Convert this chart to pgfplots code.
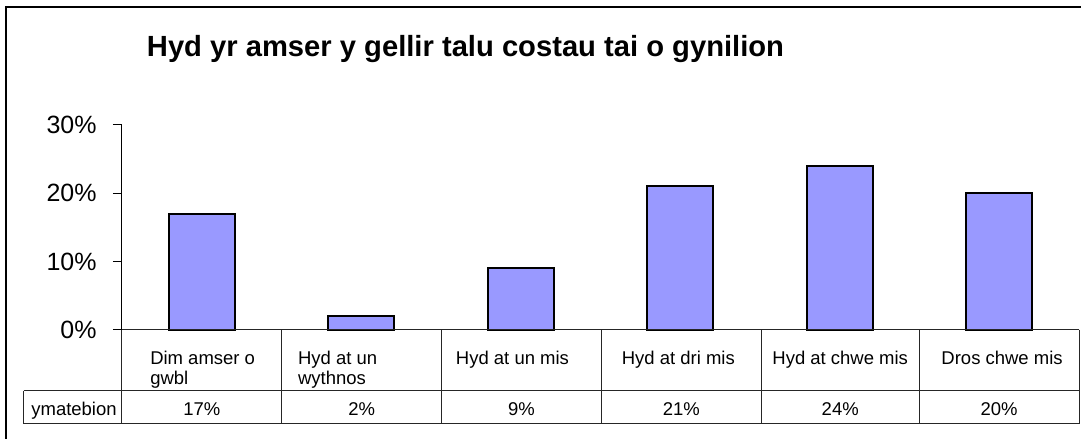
\documentclass[border=0pt]{standalone}
\usepackage{fontspec}
\setmainfont{Liberation Sans}
\usepackage{pgfplots}
\pgfplotsset{compat=1.18}
\definecolor{barblue}{HTML}{9999FF}
\begin{document}
\begin{tikzpicture}
\begin{scope}[x=0.5pt,y=-0.5pt]
\useasboundingbox (0,0) rectangle (1082,439);
\end{scope}
\begin{axis}[
  at={(61pt,-165pt)}, anchor=south west,
  scale only axis, width=479pt, height=102.5pt,
  xmin=-0.5, xmax=5.5, ymin=0, ymax=30,
  ybar, bar width=33pt,
  axis lines*=left,
  axis line style={line width=0.5pt, black},
  xtick=\empty,
  ytick={0,10,20,30},
  yticklabel={\pgfmathprintnumber{\tick}\%},
  /pgf/number format/assume math mode=true,
  tick align=outside, major tick length=4.5pt,
  tick style={black, line width=0.5pt},
  yticklabel style={font=\fontsize{12.5}{14}\selectfont, anchor=east, inner sep=0pt, xshift=-8pt},
  clip=false,
]
\addplot[fill=barblue, draw=black, line width=0.9pt] coordinates {(0,17) (1,2) (2,9) (3,21) (4,24) (5,20)};
\end{axis}
\begin{scope}[x=0.5pt,y=-0.5pt]
  % outer frame (left and top sides visible)
  \draw[line width=1pt] (6,439) -- (6,7.5) -- (1082,7.5);
  % title
  \node[anchor=base west, inner sep=0pt, font=\fontsize{14.6}{17}\selectfont\bfseries] at (146.7,56.7) {Hyd yr amser y gellir talu costau tai o gynilion};
  % data table
  \begin{scope}[line width=0.5pt, black!85]
    \draw (122,330) -- (1080,330);
    \draw (24,391) -- (1080,391);
    \draw (24,424) -- (1080,424);
    \draw (24,391) -- (24,424);
    \foreach \xx in {122,282,442,602,762,920,1080} {\draw (\xx,330) -- (\xx,424);}
  \end{scope}
  \begin{scope}[every node/.style={inner sep=0pt, font=\fontsize{9.25}{10}\selectfont}]
    \node[anchor=base west] at (150,365) {Dim amser o};
    \node[anchor=base west] at (150,385) {gwbl};
    \node[anchor=base west] at (298,365) {Hyd at un};
    \node[anchor=base west] at (298,385) {wythnos};
    \node[anchor=base west] at (456,365) {Hyd at un mis};
    \node[anchor=base] at (679,365) {Hyd at dri mis};
    \node[anchor=base] at (841,365) {Hyd at chwe mis};
    \node[anchor=base] at (1003,365) {Dros chwe mis};
    \node[anchor=base west] at (31,416) {ymatebion};
    \node[anchor=base] at (202,416) {17\%};
    \node[anchor=base] at (362,416) {2\%};
    \node[anchor=base] at (522,416) {9\%};
    \node[anchor=base] at (682,416) {21\%};
    \node[anchor=base] at (841,416) {24\%};
    \node[anchor=base] at (1000,416) {20\%};
  \end{scope}
\end{scope}
\end{tikzpicture}
\end{document}
